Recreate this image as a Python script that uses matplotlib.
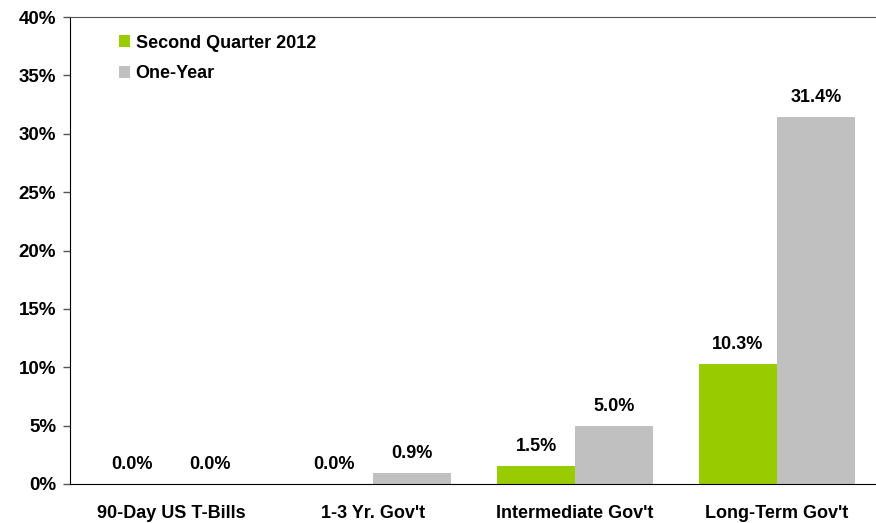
import numpy as np
import matplotlib
matplotlib.use("Agg")
import matplotlib.pyplot as plt
from matplotlib.ticker import FuncFormatter

plt.rcParams['font.family'] = ['Liberation Sans', 'DejaVu Sans']
plt.rcParams['font.weight'] = 'bold'

# data
categories = ["90-Day US T-Bills", "1-3 Yr. Gov't", "Intermediate Gov't", "Long-Term Gov't"]
quarter = [0.0, 0.0, 1.5, 10.3]
one_year = [0.0, 0.9, 5.0, 31.4]
series_names = ["Second Quarter 2012", "One-Year"]
yticks = [0, 5, 10, 15, 20, 25, 30, 35, 40]

green = "#99CC00"
gray = "#C0C0C0"

fig = plt.figure(figsize=(8.76, 5.23), dpi=100)
ax = fig.add_axes([70/876, 39/523, 808/876, 467/523])

x = np.arange(len(categories))
w = 0.386
b1 = ax.bar(x - w/2, quarter, w, color=green, label=series_names[0])
b2 = ax.bar(x + w/2, one_year, w, color=gray, label=series_names[1])

for bars, vals in ((b1, quarter), (b2, one_year)):
    for r, v in zip(bars, vals):
        ax.annotate(f"{v:.1f}%", (r.get_x() + r.get_width()/2, v),
                    xytext=(0, 8), textcoords="offset points",
                    ha="center", va="bottom", fontsize=13, fontweight="bold")

ax.set_xlim(-0.5, 3.5)
ax.set_ylim(0, 40)
ax.set_yticks(yticks)
ax.yaxis.set_major_formatter(FuncFormatter(lambda v, p: f"{v:.0f}%"))
ax.set_xticks(x)
ax.set_xticklabels(categories)

ax.tick_params(axis='y', labelsize=13.5, length=5, width=1, direction='out', pad=5, color='#555555')
ax.tick_params(axis='x', labelsize=13, length=0, pad=15)
for lbl in ax.get_yticklabels() + ax.get_xticklabels():
    lbl.set_fontweight('bold')

ax.spines['right'].set_visible(False)
ax.spines['top'].set_color('#555555')
ax.spines['left'].set_color('#000000')
ax.spines['bottom'].set_color('#000000')

leg = ax.legend(loc='upper left', bbox_to_anchor=(0.04, 0.997), frameon=False,
                handlelength=0.65, handleheight=0.65,
                handletextpad=0.3, labelspacing=0.75, prop={'weight': 'bold', 'size': 13})

fig.savefig("out.png", dpi=100)
